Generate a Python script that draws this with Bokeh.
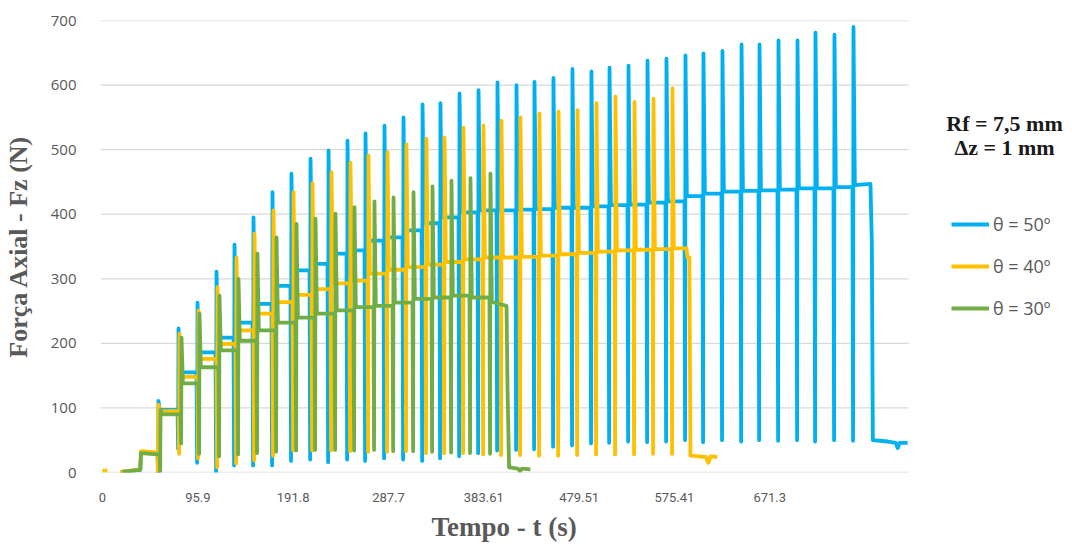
from bokeh.plotting import figure
from bokeh.models import Range1d, FixedTicker, Legend, LegendItem, Label, Title
from bokeh.embed import file_html
from bokeh.resources import INLINE

# ---------------- data ----------------
x_ticks = [0, 95.9, 191.8, 287.7, 383.61, 479.51, 575.41, 671.3]
x_tick_labels = ["0", "95.9", "191.8", "287.7", "383.61", "479.51", "575.41", "671.3"]
y_ticks = [0, 100, 200, 300, 400, 500, 600, 700]
x_end = 810.9  # right end of the plotting area (s)

names = ["θ = 50º", "θ = 40º", "θ = 30º"]
colors = ["#00B0F0", "#FFC000", "#70AD47"]

# θ = 50º
b_pre_t = [18, 38, 38.8, 54.5]
b_pre_v = [1, 4, 31, 29]
b_spike_t = [56.3, 76.5, 95.6, 114.7, 132.8, 151.9, 171.0, 190.1, 209.3, 227.4,
             246.5, 264.6, 283.7, 302.8, 322.0, 340.0, 359.2, 378.3, 397.4, 416.5,
             434.6, 453.7, 472.8, 491.9, 510.1, 529.2, 548.3, 567.4, 586.5, 604.6,
             623.7, 642.9, 661.0, 680.1, 699.2, 717.3, 736.4, 755.5]
b_peak = [111, 223, 263, 311, 353, 395, 434, 463, 486, 499,
          514, 525, 537, 550, 570, 572, 587, 592, 604, 600,
          605, 611, 625, 621, 627, 630, 638, 641, 646, 649,
          653, 663, 663, 669, 669, 681, 678, 690]
b_low = [0, 37, 15, 1, 11, 11, 11, 18, 20, 16,
         20, 18, 22, 20, 18, 22, 25, 30, 34, 35,
         36, 40, 42, 45, 46, 48, 47, 48, 50, 47,
         50, 48, 50, 49, 50, 48, 50, 49]
b_plateau = [97, 155, 186, 209, 232, 261, 289, 313, 323, 339,
             344, 359, 364, 375, 386, 395, 403, 406, 406, 407,
             408, 410, 410, 412, 414, 415, 418, 420, 428, 432,
             435, 436, 437, 438, 440, 440, 442, 445]
b_post_t = [772.6, 774.0, 775.0, 790, 798, 800, 802, 810]
b_post_v = [447, 355, 50, 48, 46, 38, 46, 46]

# θ = 40º
y_pre_t = [0, 5, None, 18, 38, 38.8, 54.5]
y_pre_v = [3, 3, None, 1, 5, 33, 31]
y_spike_t = [56.3, 77.5, 96.6, 115.7, 134.8, 152.9, 172.0, 192.2, 211.3, 230.4,
             249.5, 267.6, 286.7, 305.8, 325.9, 344.1, 363.2, 383.3, 401.4, 420.5,
             439.6, 458.8, 477.9, 497.0, 516.1, 535.2, 554.3, 573.4]
y_peak = [105, 215, 251, 287, 333, 370, 406, 434, 448, 465,
          480, 491, 496, 508, 517, 519, 534, 537, 545, 550,
          556, 559, 561, 572, 582, 574, 579, 595]
y_low = [2, 29, 22, 8, 14, 19, 26, 34, 34, 34,
         33, 32, 32, 33, 30, 30, 30, 28, 27, 27,
         26, 26, 27, 28, 28, 28, 29, 29]
y_plateau = [95, 148, 176, 199, 220, 246, 264, 275, 284, 293,
             297, 308, 314, 318, 322, 326, 330, 333, 333, 334,
             336, 338, 340, 342, 344, 345, 346, 347]
y_post_t = [587.5, 588.5, 590.5, 591.5, 600, 607, 609.5, 612, 618.5]
y_post_v = [347, 333, 333, 26, 25, 24, 15, 25, 24]

# θ = 30º
g_pre_t = [20, 38, 38.8, 56.5]
g_pre_v = [1, 4, 30, 28]
g_spike_t = [58.4, 79.5, 97.6, 117.7, 136.8, 155.9, 175.1, 195.2, 214.3, 234.4,
             253.5, 273.6, 292.8, 312.9, 332.0, 351.1, 370.2, 390.3]
g_peak = [97, 209, 246, 274, 300, 339, 364, 385, 393, 401,
          411, 420, 426, 434, 443, 452, 456, 463]
g_low = [2, 45, 29, 25, 28, 30, 32, 34, 35, 35,
         34, 35, 33, 33, 32, 31, 30, 29]
g_plateau = [90, 138, 163, 189, 204, 220, 232, 240, 246, 251,
             256, 258, 263, 269, 271, 274, 271, 264]
g_post_t = [406.5, 407.5, 409, 418, 420, 422, 430.5]
g_post_v = [258, 130, 8, 6, 2, 6, 5]


def build(pre_t, pre_v, st, pk, lo, pl, post_t, post_v):
    nan = float("nan")
    xs = [nan if v is None else v for v in pre_t]
    ys = [nan if v is None else v for v in pre_v]
    prev = ys[-1]
    for i in range(len(st)):
        t = st[i]
        xs += [t - 1.0, t - 0.4, t, t + 1.4]
        ys += [prev, lo[i], pk[i], pl[i]]
        prev = pl[i]
    xs += list(post_t)
    ys += list(post_v)
    return xs, ys


series = [
    build(b_pre_t, b_pre_v, b_spike_t, b_peak, b_low, b_plateau, b_post_t, b_post_v),
    build(y_pre_t, y_pre_v, y_spike_t, y_peak, y_low, y_plateau, y_post_t, y_post_v),
    build(g_pre_t, g_pre_v, g_spike_t, g_peak, g_low, g_plateau, g_post_t, g_post_v),
]

# ---------------- figure ----------------
# frame spans the full width (legend lives inside it, right of the data area)
PX_PER_S = 0.994
frame_w = 1072 - 100
p = figure(width=1072, height=547, output_backend="svg", toolbar_location=None,
           x_range=Range1d(-2.0, -2.0 + frame_w / PX_PER_S), y_range=Range1d(0, 700),
           min_border_left=100, min_border_right=0, min_border_top=20,
           min_border_bottom=75)
p.outline_line_color = None
p.background_fill_color = "white"
p.border_fill_color = "white"

p.xgrid.grid_line_color = None
p.ygrid.grid_line_color = None
# horizontal gridlines only across the data area
p.segment(x0=[-2.0] * len(y_ticks), x1=[x_end] * len(y_ticks), y0=y_ticks, y1=y_ticks,
          line_color="#D9D9D9", line_width=1.3)

p.yaxis.ticker = FixedTicker(ticks=y_ticks)
p.xaxis.ticker = FixedTicker(ticks=x_ticks)
p.xaxis.major_label_overrides = {t: s for t, s in zip(x_ticks, x_tick_labels)}

for ax in (p.xaxis, p.yaxis):
    ax.axis_line_color = None
    ax.major_tick_line_color = None
    ax.minor_tick_line_color = None
    ax.major_label_text_color = "#595959"
    ax.axis_label_text_color = "#595959"
    ax.axis_label_text_font = "Liberation Serif"
    ax.axis_label_text_font_style = "bold"

p.yaxis.major_label_text_font = "Open Sans"
p.yaxis.major_label_text_font_size = "15px"
p.yaxis.major_label_standoff = 18
p.yaxis.axis_label = "Força Axial - Fz (N)"
p.yaxis.axis_label_text_font_size = "26px"
p.yaxis.axis_label_standoff = 15

p.xaxis.major_label_text_font = "Roboto"
p.xaxis.major_label_text_font_size = "13px"
p.xaxis.major_label_standoff = 14

# x-axis title, centred under the data area
p.add_layout(Title(text="Tempo - t (s)", align="left", offset=331,
                   text_font="Liberation Serif", text_font_style="bold",
                   text_font_size="27px", text_color="#595959",
                   standoff=10), "below")

renderers = []
for (xs, ys), c in zip(series, colors):
    r = p.line(xs, ys, line_color=c, line_width=3.8, line_join="round")
    renderers.append(r)

legend = Legend(items=[LegendItem(label=n, renderers=[r]) for n, r in zip(names, renderers)],
                location=(851, 152), orientation="vertical",
                glyph_width=38, glyph_height=20, label_height=20, spacing=18,
                label_standoff=4, padding=0, margin=0,
                border_line_color=None, background_fill_alpha=0,
                label_text_font="Open Sans", label_text_font_size="18px",
                label_text_color="#595959")
p.add_layout(legend, "center")

for txt, yv in (("Rf = 7,5 mm", 540.5), ("Δz = 1 mm", 503.5)):
    p.add_layout(Label(x=907.5, y=yv, text=txt, text_align="center", text_baseline="middle",
                       text_font="Liberation Serif", text_font_style="bold",
                       text_font_size="22px", text_color="#1a1a1a"))

open("out.html", "w").write(file_html(p, INLINE))
